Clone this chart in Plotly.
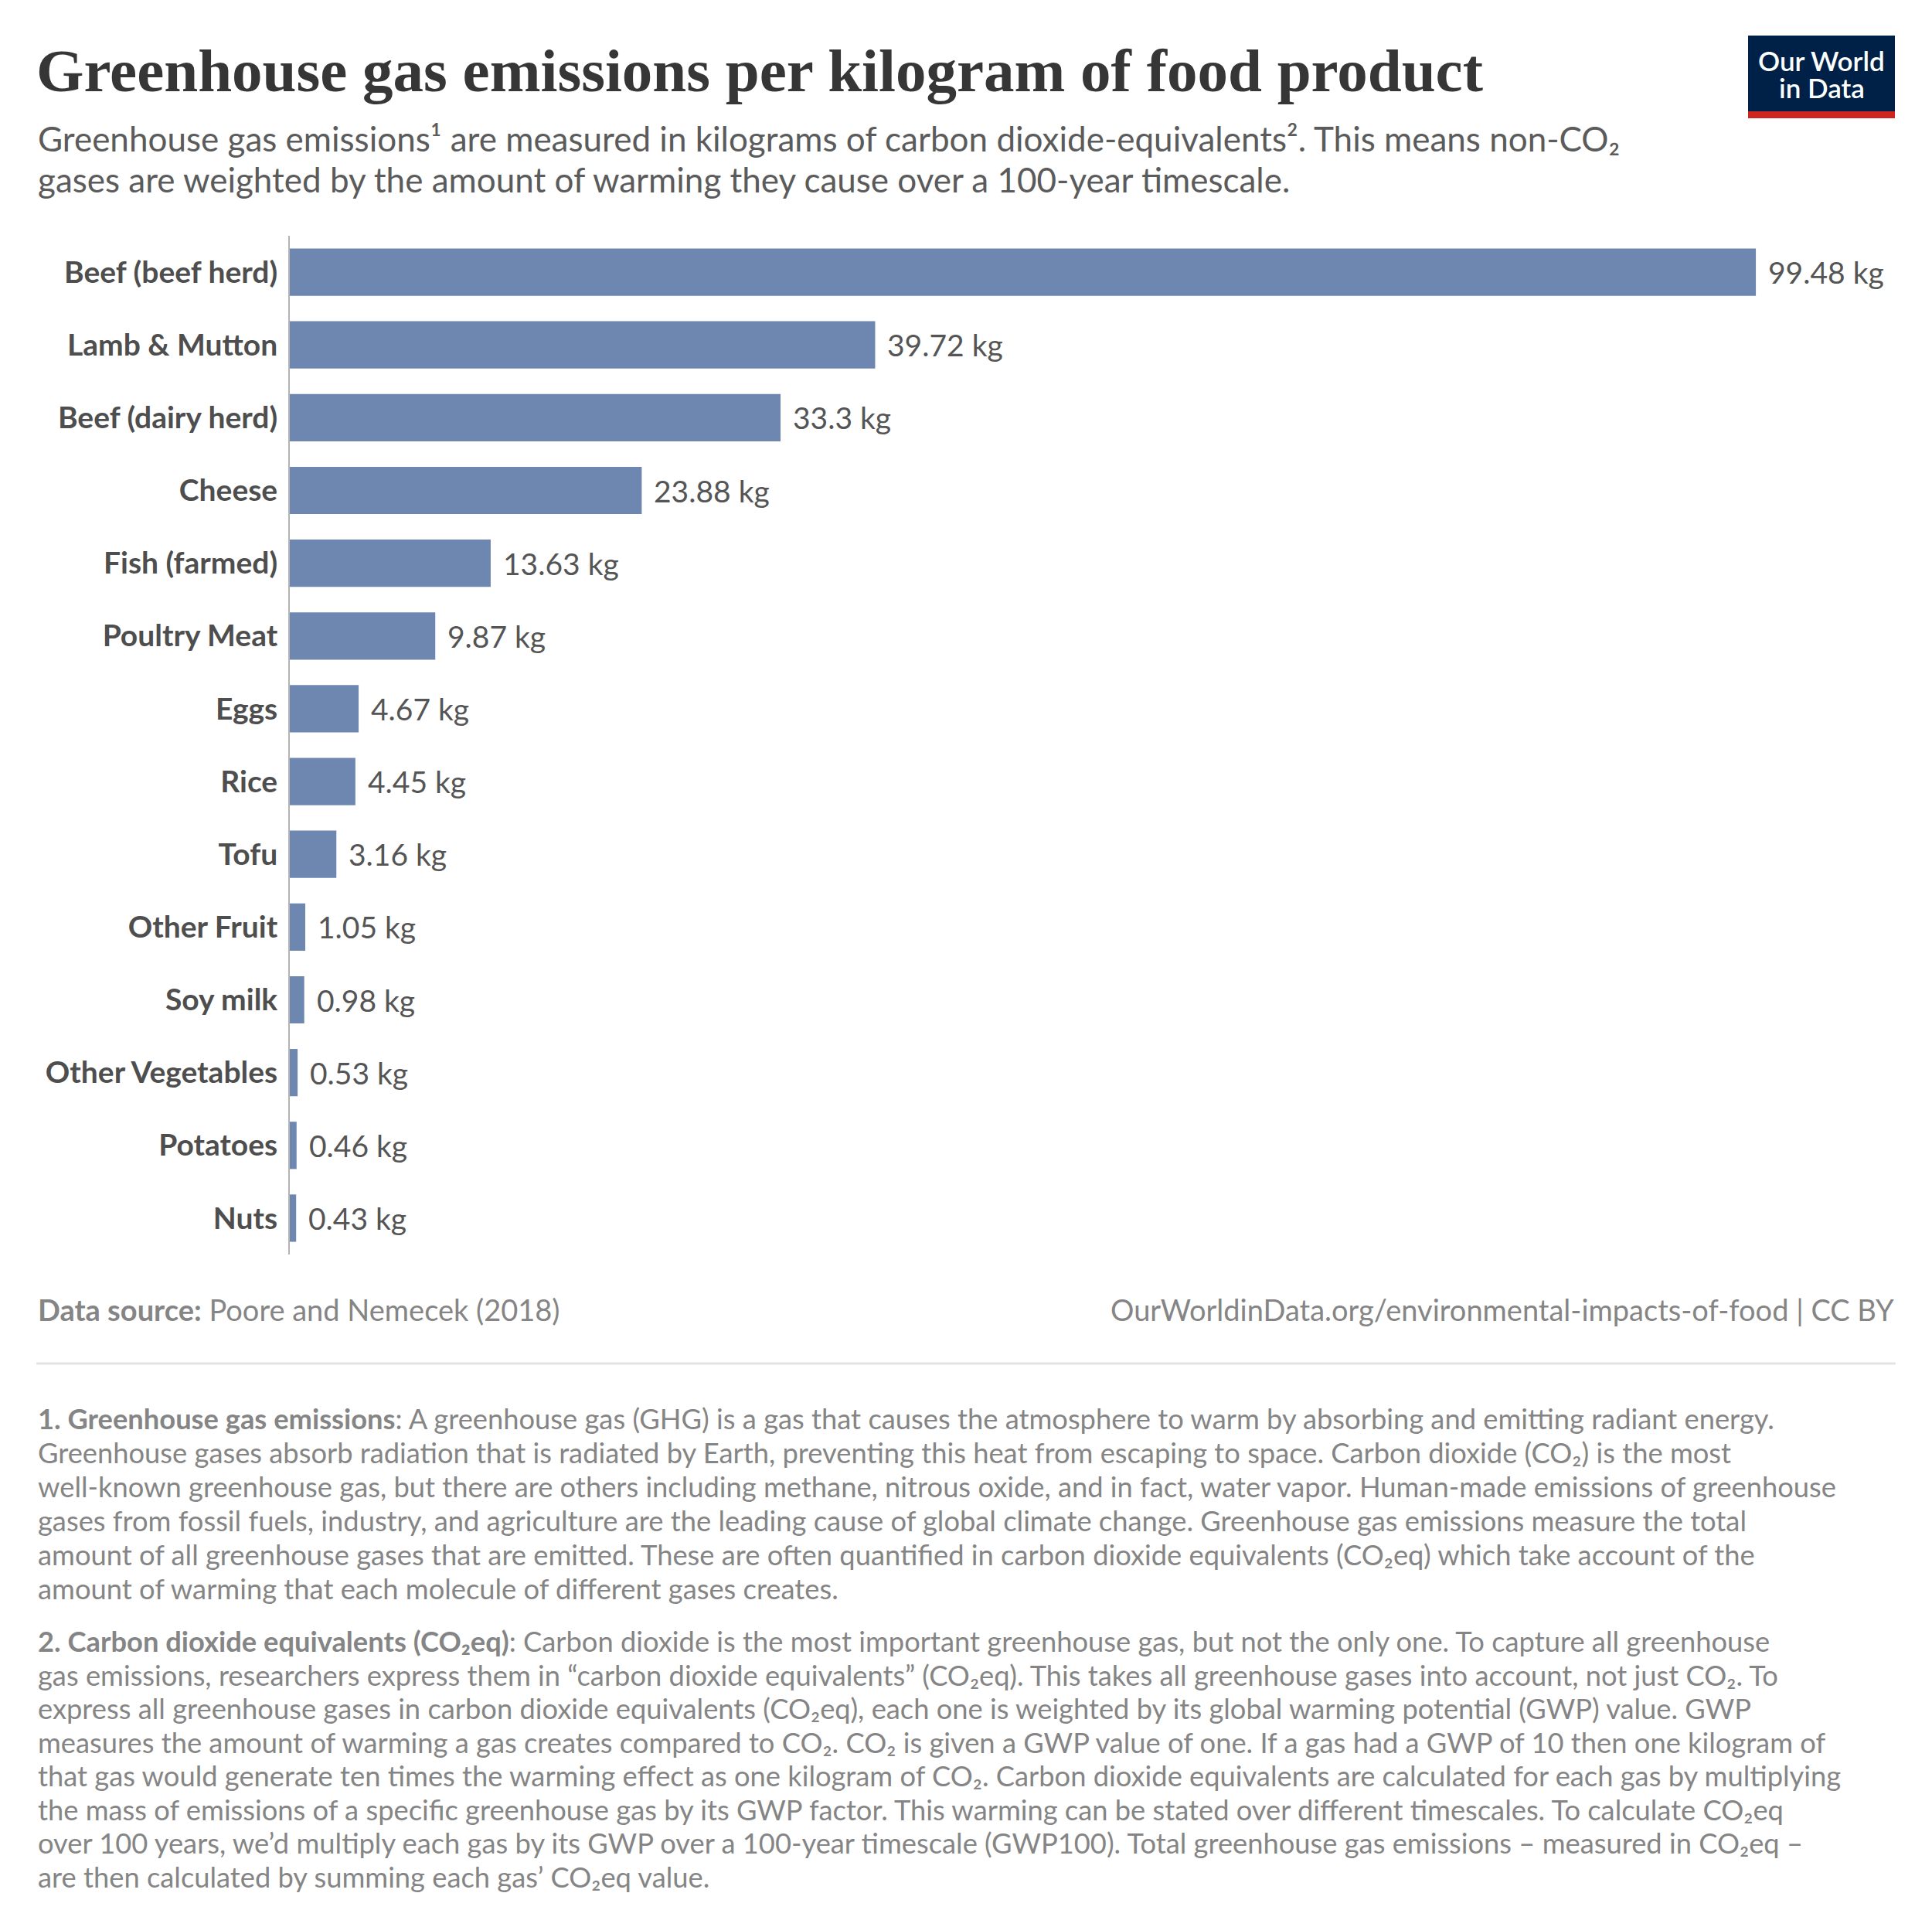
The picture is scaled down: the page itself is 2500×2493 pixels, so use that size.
import plotly.graph_objects as go

W, H = 2500, 2493

categories = ["Beef (beef herd)", "Lamb & Mutton", "Beef (dairy herd)", "Cheese",
              "Fish (farmed)", "Poultry Meat", "Eggs", "Rice", "Tofu", "Other Fruit",
              "Soy milk", "Other Vegetables", "Potatoes", "Nuts"]
values = [99.48, 39.72, 33.3, 23.88, 13.63, 9.87, 4.67, 4.45, 3.16, 1.05, 0.98, 0.53, 0.46, 0.43]
unit = "kg"

title = "Greenhouse gas emissions per kilogram of food product"
subtitle_lines = [
    "Greenhouse gas emissions¹ are measured in kilograms of carbon dioxide-equivalents². This means non-CO₂",
    "gases are weighted by the amount of warming they cause over a 100-year timescale.",
]
source_left = "<b>Data source:</b> Poore and Nemecek (2018)"
source_right = "OurWorldinData.org/environmental-impacts-of-food | CC BY"
note1_lines = [
    "<b>1. Greenhouse gas emissions</b>: A greenhouse gas (GHG) is a gas that causes the atmosphere to warm by absorbing and emitting radiant energy.",
    "Greenhouse gases absorb radiation that is radiated by Earth, preventing this heat from escaping to space. Carbon dioxide (CO₂) is the most",
    "well-known greenhouse gas, but there are others including methane, nitrous oxide, and in fact, water vapor. Human-made emissions of greenhouse",
    "gases from fossil fuels, industry, and agriculture are the leading cause of global climate change. Greenhouse gas emissions measure the total",
    "amount of all greenhouse gases that are emitted. These are often quantified in carbon dioxide equivalents (CO₂eq) which take account of the",
    "amount of warming that each molecule of different gases creates.",
]
note2_lines = [
    "<b>2. Carbon dioxide equivalents (CO₂eq)</b>: Carbon dioxide is the most important greenhouse gas, but not the only one. To capture all greenhouse",
    "gas emissions, researchers express them in “carbon dioxide equivalents” (CO₂eq). This takes all greenhouse gases into account, not just CO₂. To",
    "express all greenhouse gases in carbon dioxide equivalents (CO₂eq), each one is weighted by its global warming potential (GWP) value. GWP",
    "measures the amount of warming a gas creates compared to CO₂. CO₂ is given a GWP value of one. If a gas had a GWP of 10 then one kilogram of",
    "that gas would generate ten times the warming effect as one kilogram of CO₂. Carbon dioxide equivalents are calculated for each gas by multiplying",
    "the mass of emissions of a specific greenhouse gas by its GWP factor. This warming can be stated over different timescales. To calculate CO₂eq",
    "over 100 years, we’d multiply each gas by its GWP over a 100-year timescale (GWP100). Total greenhouse gas emissions – measured in CO₂eq –",
    "are then calculated by summing each gas’ CO₂eq value.",
]


def px(x):
    return x / W


def py(y):
    return 1 - y / H


BAR = "#6e87b0"
LATO = "Lato"
X0, PXU, XMAX = 375, 19.07, 110

fig = go.Figure()
fig.add_trace(go.Bar(
    x=values, y=categories, orientation="h",
    marker=dict(color=BAR, line=dict(width=0)),
    hoverinfo="skip", showlegend=False,
))

annotations = []
for c, v in zip(categories, values):
    annotations.append(dict(
        x=v, y=c, xref="x", yref="y", text=f"{v} {unit}", showarrow=False,
        xanchor="left", yanchor="middle", xshift=14,
        font=dict(family=LATO, size=39, color="#555555"),
    ))


def text_at(x, y, text, size, color, anchor="left", family=LATO, weight=None):
    f = dict(family=family, size=size, color=color)
    if weight is not None:
        f["weight"] = weight
    annotations.append(dict(x=px(x), y=py(y), xref="paper", yref="paper", text=text,
                            showarrow=False, xanchor=anchor, yanchor="middle", align=anchor,
                            font=f))


# title & subtitle
text_at(45, 91.5, f"<b>{title}</b>", 79, "#363636", family="Liberation Serif")
for i, line in enumerate(subtitle_lines):
    text_at(47, 179 + 53 * i, line, 44, "#5b5b5b")
# logo text
text_at(2357, 78, "Our World", 35, "white", anchor="center", weight=600)
text_at(2357, 113, "in Data", 35, "white", anchor="center", weight=600)
# footer
text_at(47, 1694, source_left, 38, "#858585")
text_at(2453, 1694, source_right, 38, "#858585", anchor="right")
for i, line in enumerate(note1_lines):
    text_at(47, 1835 + 44 * i, line, 36.3, "#858585")
for i, line in enumerate(note2_lines):
    text_at(47, 2123 + 43.5 * i, line, 36.3, "#858585")

shapes = [
    dict(type="rect", xref="paper", yref="paper", x0=px(2262), x1=px(2452), y0=py(153), y1=py(46),
         fillcolor="#002147", line=dict(width=0), layer="above"),
    dict(type="rect", xref="paper", yref="paper", x0=px(2262), x1=px(2452), y0=py(153), y1=py(144),
         fillcolor="#ce261e", line=dict(width=0), layer="above"),
    dict(type="line", xref="paper", yref="paper", x0=px(47), x1=px(2453), y0=py(1764), y1=py(1764),
         line=dict(color="#e3e3e3", width=3)),
]

fig.update_layout(
    width=W, height=H,
    margin=dict(l=0, r=0, t=0, b=0, pad=0),
    paper_bgcolor="white", plot_bgcolor="white",
    bargap=0.35,
    annotations=annotations, shapes=shapes,
    xaxis=dict(domain=[px(X0), px(X0 + XMAX * PXU)], range=[0, XMAX],
               showgrid=False, zeroline=False, showline=False, showticklabels=False, ticks=""),
    yaxis=dict(domain=[py(1623), py(305)], type="category",
               categoryorder="array", categoryarray=categories,
               range=[len(categories) - 0.5, -0.5],
               showgrid=False, zeroline=False, showline=True, linecolor="#b4b4b4", linewidth=2,
               ticks="", ticklabelstandoff=6,
               tickfont=dict(family=LATO, size=39, color="#4e4e4e", weight="bold")),
)

fig.write_html("out.html", config={"displayModeBar": False},
               post_script="document.body.style.margin='0px';")
